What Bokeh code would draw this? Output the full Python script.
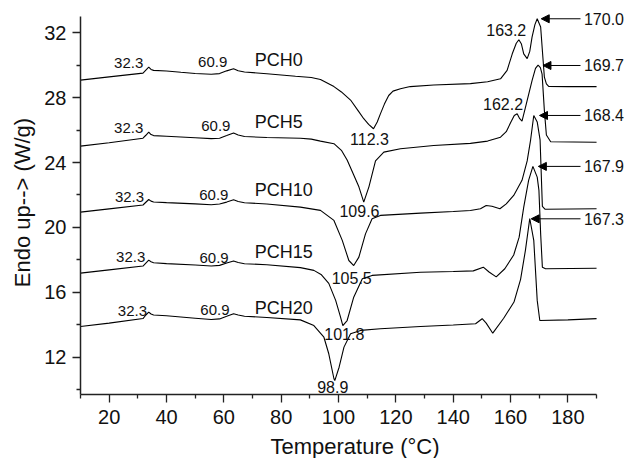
from bokeh.plotting import figure
from bokeh.models import Range1d, FixedTicker, Arrow, NormalHead, ColumnDataSource
from bokeh.core.properties import value
from bokeh.embed import file_html
from bokeh.resources import INLINE

# ---------------- data ----------------
x_pch0 = [10, 20, 31.8, 32.8, 33.8, 34.6, 35.5, 40, 45, 50, 55.6, 58.5, 61, 63.4, 65, 67.2, 75, 85, 90.5,
          93.7, 98.4, 101, 104.2, 107, 108.8, 110.5, 112.2, 113.5, 114.6, 116, 117.5, 119, 121.6, 125,
          133.2, 146, 152, 156.5, 158.8, 160.6, 162, 162.9, 163.8, 164.6, 165.8, 166.7, 167.5, 168.5,
          169.3, 170.5, 171.1, 171.8, 172.5, 173.3, 180, 190]
y_pch0 = [29.08, 29.28, 29.51, 29.70, 29.88, 29.74, 29.68, 29.64, 29.56, 29.49, 29.44, 29.48, 29.65, 29.78,
          29.66, 29.58, 29.47, 29.32, 29.24, 29.12, 28.68, 28.35, 27.85, 27.15, 26.70, 26.35, 26.08, 26.50,
          27.00, 27.60, 28.13, 28.40, 28.55, 28.68, 28.78, 28.86, 28.98, 29.16, 29.68, 30.70, 31.35, 31.57,
          31.30, 30.70, 30.40, 30.85, 31.73, 32.50, 32.86, 32.35, 30.90, 29.26, 28.85, 28.69, 28.68, 28.68]

x_pch5 = [10, 20, 31.8, 32.8, 33.8, 34.6, 35.5, 40, 50, 55.6, 58.5, 61, 63.4, 65, 67.2, 75, 86.7, 90.5,
          93.7, 98.4, 101, 103, 105, 107.1, 108.8, 110.6, 112.9, 115.8, 121.6, 133.2, 146, 152, 156.5,
          158.5, 160, 161.3, 162.3, 163.2, 164, 165.2, 167.5, 168.7, 169.6, 170.4, 171, 171.8, 172.5,
          174, 190]
y_pch5 = [25.01, 25.22, 25.50, 25.68, 25.87, 25.72, 25.66, 25.62, 25.53, 25.47, 25.50, 25.66, 25.82,
          25.70, 25.60, 25.54, 25.50, 25.44, 25.32, 25.16, 24.75, 24.15, 23.35, 22.50, 21.56, 22.50,
          24.10, 24.64, 24.85, 25.05, 25.18, 25.32, 25.56, 25.90, 26.45, 26.90, 27.00, 26.70, 26.55,
          27.40, 29.05, 29.80, 30.00, 29.85, 29.45, 27.20, 25.70, 25.28, 25.25]

x_pch10 = [10, 20, 31.8, 32.8, 33.8, 34.6, 35.5, 40, 50, 55.6, 58.5, 61, 63.4, 65, 67.2, 75, 86.7, 93.7,
           98.4, 101.3, 103.6, 105.3, 107.1, 109.4, 111.7, 114.6, 128.6, 140, 146, 149.5, 151.5, 153.5,
           156.3, 158.5, 161.1, 164, 165.8, 167, 168.1, 169.3, 170.3, 171.1, 172, 190]
y_pch10 = [20.94, 21.14, 21.38, 21.55, 21.72, 21.62, 21.57, 21.53, 21.45, 21.40, 21.44, 21.56, 21.70,
           21.60, 21.52, 21.44, 21.25, 21.05, 20.43, 19.20, 17.96, 17.65, 18.17, 19.60, 20.53, 20.74,
           20.88, 20.98, 21.04, 21.15, 21.35, 21.30, 21.15, 21.45, 21.97, 22.90, 24.10, 25.40, 26.90,
           26.50, 25.40, 21.30, 21.12, 21.15]

x_pch15 = [10, 20, 31.8, 32.8, 33.8, 34.6, 35.5, 40, 50, 55.6, 58.5, 61, 63.4, 65, 67.2, 75, 86.7, 91.4,
           93.9, 96.6, 99, 100.7, 101.5, 103, 105.3, 108.3, 111.7, 128.6, 140, 147, 150.5, 152.5, 155,
           158, 161.1, 163, 164.6, 166.3, 167.8, 169.3, 169.9, 170.5, 171.1, 172.2, 190]
y_pch15 = [17.18, 17.38, 17.62, 17.80, 17.98, 17.88, 17.82, 17.77, 17.68, 17.62, 17.66, 17.80, 17.93,
           17.84, 17.76, 17.70, 17.52, 17.35, 17.10, 16.55, 15.50, 14.47, 13.95, 14.26, 15.70, 16.83,
           17.04, 17.24, 17.28, 17.32, 17.55, 17.25, 16.95, 17.45, 18.30, 19.40, 21.25, 22.90, 23.76,
           23.10, 22.28, 19.60, 17.55, 17.45, 17.48]

x_pch20 = [10, 20, 31.8, 32.8, 33.8, 34.6, 35.5, 40, 50, 55.6, 58.5, 61, 63.4, 65, 67.2, 75, 86.7, 91.4,
           94.9, 96.6, 98.4, 98.7, 100.2, 101.9, 104.2, 107.7, 114.6, 128.6, 140, 147.8, 150.1, 151.5,
           153.8, 157.6, 161.2, 163.5, 165.2, 166.7, 168.1, 169.3, 170.2, 180, 190]
y_pch20 = [13.89, 14.10, 14.38, 14.60, 14.78, 14.66, 14.60, 14.55, 14.40, 14.32, 14.36, 14.52, 14.68,
           14.60, 14.52, 14.45, 14.30, 13.95, 13.23, 12.21, 10.67, 10.56, 11.38, 12.62, 13.44, 13.65,
           13.75, 13.89, 13.98, 14.06, 14.37, 14.10, 13.48, 14.40, 15.40, 16.80, 18.60, 20.55, 19.20,
           15.50, 14.26, 14.30, 14.38]

series_names = ["PCH0", "PCH5", "PCH10", "PCH15", "PCH20"]
glass_labels = ["32.3", "32.3", "32.3", "32.3", "32.3"]
second_labels = ["60.9", "60.9", "60.9", "60.9", "60.9"]
cryst_labels = ["112.3", "109.6", "105.5", "101.8", "98.9"]
shoulder_labels = ["163.2", "162.2"]
melt_labels = ["170.0", "169.7", "168.4", "167.9", "167.3"]

x_ticks = [20, 40, 60, 80, 100, 120, 140, 160, 180]
x_minor = [10, 30, 50, 70, 90, 110, 130, 150, 170, 190]
y_ticks = [12, 16, 20, 24, 28, 32]
y_minor = [10, 14, 18, 22, 26, 30]

# ---------------- annotation placement ----------------
name_x = [70.8] * 5
name_y = [30.29, 26.47, 22.28, 18.47, 15.05]
glass_x = [26.8, 26.8, 27.1, 27.5, 28.1]
glass_y = [30.11, 26.10, 21.85, 18.15, 14.84]
second_x = [56.1, 57.2, 56.5, 56.6, 56.9]
second_y = [30.17, 26.28, 21.97, 18.13, 14.92]
cryst_x = [110.8, 107.3, 104.6, 102.0, 98.0]
cryst_y = [25.47, 21.0, 16.9, 13.44, 10.15]
shoulder_x = [158.5, 157.4]
shoulder_y = [32.18, 27.62]
arrow_tip_x = [170.7, 171.3, 170.1, 169.7, 167.2]
arrow_tail_x = [184.4] * 5
arrow_y = [32.86, 29.98, 26.9, 23.76, 20.53]
melt_text_x = [185.6] * 5

FONT = "Liberation Sans"

p = figure(frame_width=549, frame_height=384, output_backend="svg", toolbar_location=None,
           x_range=Range1d(10, 201.49), y_range=Range1d(9.7, 33.37),
           min_border_left=80, min_border_right=0, min_border_top=10, min_border_bottom=64)
p.grid.visible = False
p.outline_line_color = None
p.background_fill_color = "white"
p.border_fill_color = "white"

for xs, ys in [(x_pch0, y_pch0), (x_pch5, y_pch5), (x_pch10, y_pch10),
               (x_pch15, y_pch15), (x_pch20, y_pch20)]:
    p.line(xs, ys, line_color="black", line_width=1.1)

def add_text(xs, ys, texts, size, align="center"):
    p.text(x=xs, y=ys, text=texts, text_font=value(FONT), text_font_size=value(size),
           text_align=align, text_baseline="middle", text_color="#111111")

add_text(glass_x, glass_y, glass_labels, "15px")
add_text(second_x, second_y, second_labels, "15px")
add_text(name_x, name_y, series_names, "18px", align="left")
add_text(cryst_x, cryst_y, cryst_labels, "16px")
add_text(shoulder_x, shoulder_y, shoulder_labels, "16px")
add_text(melt_text_x, arrow_y, melt_labels, "16px", align="left")

arrow_src = ColumnDataSource(dict(x0=arrow_tail_x, x1=arrow_tip_x, y=arrow_y))
p.add_layout(Arrow(end=NormalHead(size=8, fill_color="black", line_color="black", line_width=1),
                   x_start="x0", y_start="y", x_end="x1", y_end="y",
                   source=arrow_src, line_color="black", line_width=1))

xa = p.xaxis[0]
xa.ticker = FixedTicker(ticks=x_ticks, minor_ticks=x_minor)
xa.bounds = (10, 190)
xa.axis_label = "Temperature (°C)"
ya = p.yaxis[0]
ya.ticker = FixedTicker(ticks=y_ticks, minor_ticks=y_minor)
ya.bounds = (9.7, 33.0)
ya.axis_label = "Endo up--> (W/g)"

for ax in (xa, ya):
    ax.axis_line_width = 1.5
    ax.axis_line_color = "#222222"
    ax.major_tick_line_color = "#222222"
    ax.minor_tick_line_color = "#222222"
    ax.major_tick_line_width = 1.3
    ax.minor_tick_line_width = 1.3
    ax.major_tick_in = 0
    ax.major_tick_out = 8
    ax.minor_tick_in = 0
    ax.minor_tick_out = 4
    ax.major_label_text_font = FONT
    ax.major_label_text_font_size = "20px"
    ax.major_label_text_color = "#111111"
    ax.axis_label_text_font = FONT
    ax.axis_label_text_font_size = "22px"
    ax.axis_label_text_font_style = "normal"
    ax.axis_label_text_color = "#111111"

xa.major_label_standoff = 7
xa.axis_label_standoff = 7
ya.major_label_standoff = 6
ya.axis_label_standoff = 6

open("out.html", "w").write(file_html(p, INLINE))
